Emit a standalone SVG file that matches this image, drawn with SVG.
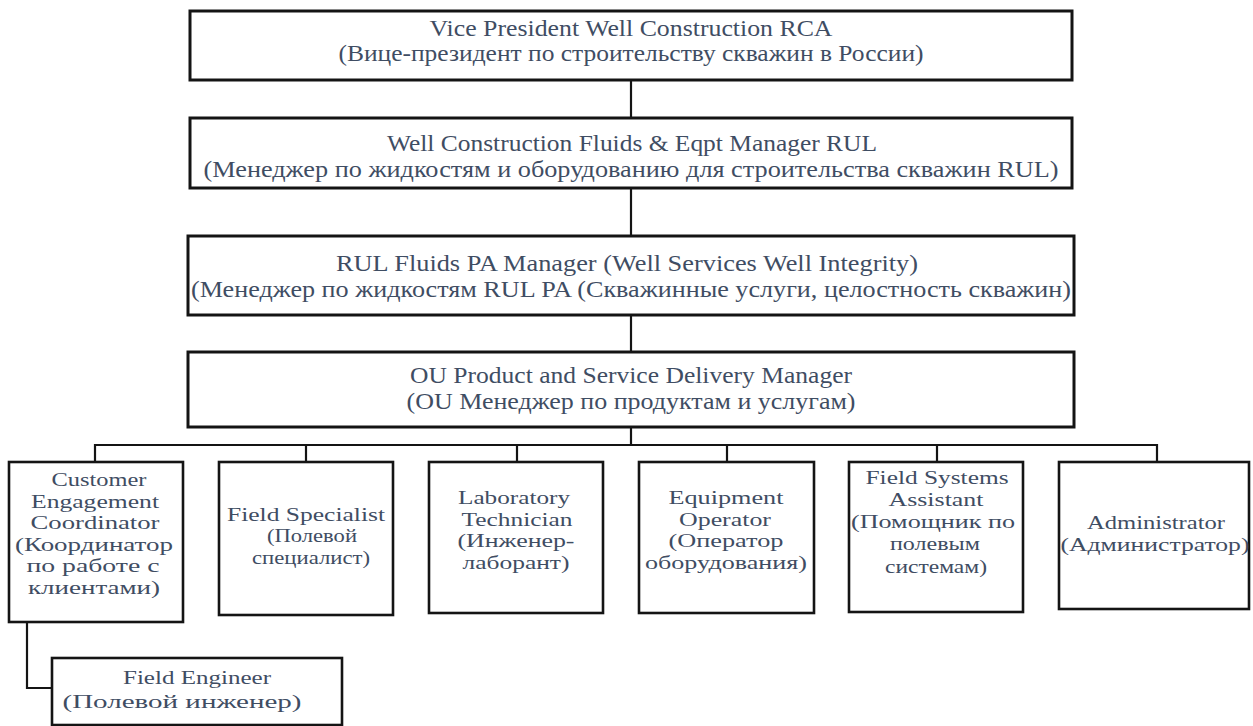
<svg xmlns="http://www.w3.org/2000/svg" width="1253" height="726" viewBox="0 0 1253 726">
  <style>
    .box { fill: #ffffff; stroke: #141414; stroke-width: 3; }
    .sub { fill: #ffffff; stroke: #141414; stroke-width: 2.6; }
    .wire { fill: none; stroke: #141414; stroke-width: 2.2; }
    text { font-family: 'Liberation Serif', serif; fill: #3f4d63; text-anchor: middle; }
    .big { font-size: 23.5px; }
    .small { font-size: 19px; }
  </style>
  <rect width="1253" height="726" fill="#ffffff"/>

  <!-- connectors -->
  <g id="connectors">
    <line class="wire" x1="631" y1="80" x2="631" y2="118"/>
    <line class="wire" x1="631" y1="188" x2="631" y2="236"/>
    <line class="wire" x1="631" y1="315" x2="631" y2="352"/>
    <line class="wire" x1="631" y1="427" x2="631" y2="445"/>
    <polyline class="wire" points="95,462 95,445 1157,445 1157,462"/>
    <line class="wire" x1="306" y1="445" x2="306" y2="462"/>
    <line class="wire" x1="517" y1="445" x2="517" y2="462"/>
    <line class="wire" x1="727" y1="445" x2="727" y2="462"/>
    <line class="wire" x1="937" y1="445" x2="937" y2="462"/>
    <polyline class="wire" points="27,622 27,688 52,688"/>
  </g>

  <g id="vp">
    <rect class="box" x="190" y="11" width="882" height="69"/>
    <text class="big" x="631" y="36" textLength="403" lengthAdjust="spacingAndGlyphs">Vice President Well Construction RCA</text>
    <text class="big" x="631" y="61" textLength="585" lengthAdjust="spacingAndGlyphs">(Вице-президент по строительству скважин в России)</text>
  </g>

  <g id="fluids-eqpt-manager">
    <rect class="box" x="190" y="118" width="882" height="70"/>
    <text class="big" x="632" y="151" textLength="490" lengthAdjust="spacingAndGlyphs">Well Construction Fluids &amp; Eqpt Manager RUL</text>
    <text class="big" x="631" y="177" textLength="855" lengthAdjust="spacingAndGlyphs">(Менеджер по жидкостям и оборудованию для строительства скважин RUL)</text>
  </g>

  <g id="fluids-pa-manager">
    <rect class="box" x="188" y="236" width="886" height="79"/>
    <text class="big" x="627" y="271" textLength="582" lengthAdjust="spacingAndGlyphs">RUL Fluids PA Manager (Well Services Well Integrity)</text>
    <text class="big" x="631" y="297" textLength="880" lengthAdjust="spacingAndGlyphs">(Менеджер по жидкостям RUL PA (Скважинные услуги, целостность скважин)</text>
  </g>

  <g id="delivery-manager">
    <rect class="box" x="188" y="352" width="886" height="75"/>
    <text class="big" x="631" y="383" textLength="442" lengthAdjust="spacingAndGlyphs">OU Product and Service Delivery Manager</text>
    <text class="big" x="631" y="409" textLength="449" lengthAdjust="spacingAndGlyphs">(OU Менеджер по продуктам и услугам)</text>
  </g>

  <g id="customer-engagement">
    <rect class="sub" x="9" y="462" width="174" height="160"/>
    <text class="small" x="99" y="486" textLength="95" lengthAdjust="spacingAndGlyphs">Customer</text>
    <text class="small" x="95" y="508" textLength="128" lengthAdjust="spacingAndGlyphs">Engagement</text>
    <text class="small" x="95" y="529" textLength="129" lengthAdjust="spacingAndGlyphs">Coordinator</text>
    <text class="small" x="94" y="551" textLength="158" lengthAdjust="spacingAndGlyphs">(Координатор</text>
    <text class="small" x="93" y="572" textLength="133" lengthAdjust="spacingAndGlyphs">по работе с</text>
    <text class="small" x="94" y="594" textLength="132" lengthAdjust="spacingAndGlyphs">клиентами)</text>
  </g>

  <g id="field-specialist">
    <rect class="sub" x="219" y="462" width="174" height="153"/>
    <text class="small" x="306" y="521" textLength="158" lengthAdjust="spacingAndGlyphs">Field Specialist</text>
    <text class="small" x="312" y="542" textLength="90" lengthAdjust="spacingAndGlyphs">(Полевой</text>
    <text class="small" x="311" y="564" textLength="118" lengthAdjust="spacingAndGlyphs">специалист)</text>
  </g>

  <g id="lab-technician">
    <rect class="sub" x="429" y="462" width="174" height="151"/>
    <text class="small" x="514" y="504" textLength="112" lengthAdjust="spacingAndGlyphs">Laboratory</text>
    <text class="small" x="517" y="526" textLength="111" lengthAdjust="spacingAndGlyphs">Technician</text>
    <text class="small" x="516" y="547" textLength="117" lengthAdjust="spacingAndGlyphs">(Инженер-</text>
    <text class="small" x="516" y="569" textLength="107" lengthAdjust="spacingAndGlyphs">лаборант)</text>
  </g>

  <g id="equipment-operator">
    <rect class="sub" x="639" y="462" width="175" height="151"/>
    <text class="small" x="726" y="504" textLength="115" lengthAdjust="spacingAndGlyphs">Equipment</text>
    <text class="small" x="725" y="526" textLength="92" lengthAdjust="spacingAndGlyphs">Operator</text>
    <text class="small" x="726" y="547" textLength="115" lengthAdjust="spacingAndGlyphs">(Оператор</text>
    <text class="small" x="726" y="569" textLength="162" lengthAdjust="spacingAndGlyphs">оборудования)</text>
  </g>

  <g id="field-systems-assistant">
    <rect class="sub" x="849" y="462" width="174" height="150"/>
    <text class="small" x="937" y="484" textLength="143" lengthAdjust="spacingAndGlyphs">Field Systems</text>
    <text class="small" x="936" y="506" textLength="95" lengthAdjust="spacingAndGlyphs">Assistant</text>
    <text class="small" x="933" y="528" textLength="164" lengthAdjust="spacingAndGlyphs">(Помощник по</text>
    <text class="small" x="935" y="550" textLength="90" lengthAdjust="spacingAndGlyphs">полевым</text>
    <text class="small" x="936" y="573" textLength="102" lengthAdjust="spacingAndGlyphs">системам)</text>
  </g>

  <g id="administrator">
    <rect class="sub" x="1059" y="462" width="190" height="147"/>
    <text class="small" x="1156" y="529" textLength="138" lengthAdjust="spacingAndGlyphs">Administrator</text>
    <text class="small" x="1155" y="551" textLength="189" lengthAdjust="spacingAndGlyphs">(Администратор)</text>
  </g>

  <g id="field-engineer">
    <rect class="sub" x="52" y="658" width="290" height="67"/>
    <text class="small" x="197" y="684" textLength="148" lengthAdjust="spacingAndGlyphs">Field Engineer</text>
    <text class="small" x="182" y="708" textLength="239" lengthAdjust="spacingAndGlyphs">(Полевой инженер)</text>
  </g>
</svg>
